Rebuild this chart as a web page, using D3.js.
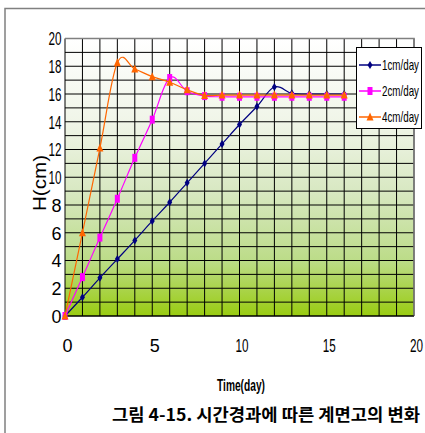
<!DOCTYPE html>
<html><head><meta charset="utf-8">
<script src="https://cdn.jsdelivr.net/npm/d3@7"></script>
<style>html,body{margin:0;padding:0;background:#fff;}svg{display:block;}</style>
</head><body>
<svg id="c" width="425" height="433"></svg>
<script>
const days = [0,1,2,3,4,5,6,7,8,9,10,11,12,13,14,15,16];
const s1 = [0,1.35,2.75,4.1,5.45,6.85,8.2,9.6,11.0,12.4,13.8,15.1,16.5,16.05,16.0,16.0,16.0];
const s2 = [0,2.8,5.65,8.45,11.4,14.15,17.15,16.2,15.85,15.8,15.8,15.8,15.8,15.8,15.8,15.8,15.8];
const s3 = [0,6.0,12.1,18.25,17.8,17.25,16.85,16.3,15.9,15.92,15.92,15.92,15.92,15.92,15.92,15.92,15.92];
const seriesNames = ["1cm/day","2cm/day","4cm/day"];
const seriesColors = ["#000080","#ff00ff","#ff6600"];
const xTicks = [0,5,10,15,20];
const yTicks = [0,2,4,6,8,10,12,14,16,18,20];
const xTitle = "Time(day)";
const yTitle = "H(cm)";
const caption = "그림 4-15. 시간경과에 따른 계면고의 변화";

const svg = d3.select("#c");
const L=65, R=414, T=38.5, B=316;
const x = d3.scaleLinear().domain([0,20]).range([L,R]);
const y = d3.scaleLinear().domain([0,20]).range([B,T]);

// outer frame
svg.append("path").attr("d",`M5,433 V8.5 H425`).attr("fill","none").attr("stroke","#808080").attr("stroke-width",1.5);

// gradient
const defs = svg.append("defs");
const g = defs.append("linearGradient").attr("id","bg").attr("x1",0).attr("y1",0).attr("x2",0).attr("y2",1);
[[0,"#ffffff"],[0.3,"#f0f5e8"],[0.55,"#d8e8c2"],[0.8,"#bcdc88"],[1,"#99cc11"]].forEach(([o,c])=>g.append("stop").attr("offset",o).attr("stop-color",c));
svg.append("rect").attr("x",L).attr("y",T).attr("width",R-L).attr("height",B-T).attr("fill","url(#bg)");

// grid
const grid = svg.append("g");
d3.range(0,21).forEach(i=>{
  grid.append("line").attr("x1",x(i)).attr("x2",x(i)).attr("y1",T).attr("y2",B).attr("stroke","#000").attr("stroke-width",1);
  grid.append("line").attr("y1",y(i)).attr("y2",y(i)).attr("x1",L).attr("x2",R).attr("stroke","#000").attr("stroke-width",1);
});
svg.append("path").attr("d",`M${L},${T} H${R} V${B}`).attr("fill","none").attr("stroke","#808080").attr("stroke-width",1.5);
svg.append("line").attr("x1",L).attr("x2",R).attr("y1",B).attr("y2",B).attr("stroke","#000").attr("stroke-width",1.2);

// axes
const ya = svg.append("g").attr("transform",`translate(${L-3.5},0)`)
  .call(d3.axisLeft(y).tickValues(yTicks).tickSize(0).tickPadding(0).tickFormat(d3.format("d")));
ya.select(".domain").remove();
ya.selectAll("text").attr("font-family","'Liberation Sans',Arial,sans-serif").attr("font-size",18).attr("fill","#000")
  .attr("dy","0.35em")
  .each(function(d){ if(String(d).length>1){ d3.select(this).attr("textLength",13).attr("lengthAdjust","spacingAndGlyphs"); } });

const xa = svg.append("g").attr("transform",`translate(2,${B})`)
  .call(d3.axisBottom(x).tickValues(xTicks).tickSize(0).tickPadding(0).tickFormat(d3.format("d")));
xa.select(".domain").remove();
xa.selectAll("text").attr("font-family","'Liberation Sans',Arial,sans-serif").attr("font-size",18).attr("fill","#000")
  .attr("y",36).attr("dy",0)
  .each(function(d){ if(String(d).length>1){ d3.select(this).attr("textLength",13).attr("lengthAdjust","spacingAndGlyphs"); } });

// titles
svg.append("text").attr("transform","translate(46,183) rotate(-90)").attr("text-anchor","middle")
  .attr("font-family","'Liberation Sans',Arial,sans-serif").attr("font-size",18).attr("fill","#000")
  .attr("textLength",56).attr("lengthAdjust","spacingAndGlyphs").text(yTitle);
svg.append("text").attr("x",217).attr("y",391)
  .attr("font-family","'Liberation Sans',Arial,sans-serif").attr("font-size",17).attr("font-weight","bold").attr("fill","#000")
  .attr("textLength",48).attr("lengthAdjust","spacingAndGlyphs").text(xTitle);
svg.append("text").attr("x",112).attr("y",421)
  .attr("font-family","'Noto Sans CJK KR',sans-serif").attr("font-size",17).attr("font-weight","bold").attr("fill","#000")
  .attr("textLength",308).attr("lengthAdjust","spacingAndGlyphs").text(caption);

// series
const allSeries = [s1,s2,s3];
const markerPath = [
  "M0,-4 L2.5,0 L0,4 L-2.5,0 Z",
  "M-2.5,-4 H2.5 V4 H-2.5 Z",
  "M0,-4.5 L3.5,3.5 L-3.5,3.5 Z"
];
const line = d3.line().x((d,i)=>x(days[i])).y(d=>y(d)).curve(d3.curveCardinal.tension(-0.1));
allSeries.forEach((s,k)=>{
  svg.append("path").datum(s).attr("d",line).attr("fill","none").attr("stroke",seriesColors[k]).attr("stroke-width",1.2);
  svg.append("g").selectAll("path").data(s).join("path")
    .attr("transform",(d,i)=>`translate(${x(days[i])},${y(d)})`)
    .attr("d",markerPath[k]).attr("fill",seriesColors[k]);
});

// legend
const lg = svg.append("g");
lg.append("rect").attr("x",356.5).attr("y",47.5).attr("width",65).attr("height",81).attr("fill","#fff").attr("stroke","#000").attr("stroke-width",1);
seriesNames.forEach((n,k)=>{
  const ly = 65 + k*26;
  lg.append("line").attr("x1",359).attr("x2",381).attr("y1",ly).attr("y2",ly).attr("stroke",seriesColors[k]).attr("stroke-width",1.5);
  lg.append("path").attr("transform",`translate(370,${ly})`).attr("d",markerPath[k]).attr("fill",seriesColors[k]);
  lg.append("text").attr("x",382).attr("y",ly+5).attr("font-family","'Liberation Sans',Arial,sans-serif").attr("font-size",15)
    .attr("fill","#000").attr("textLength",37).attr("lengthAdjust","spacingAndGlyphs").text(n);
});
</script>
</body></html>
